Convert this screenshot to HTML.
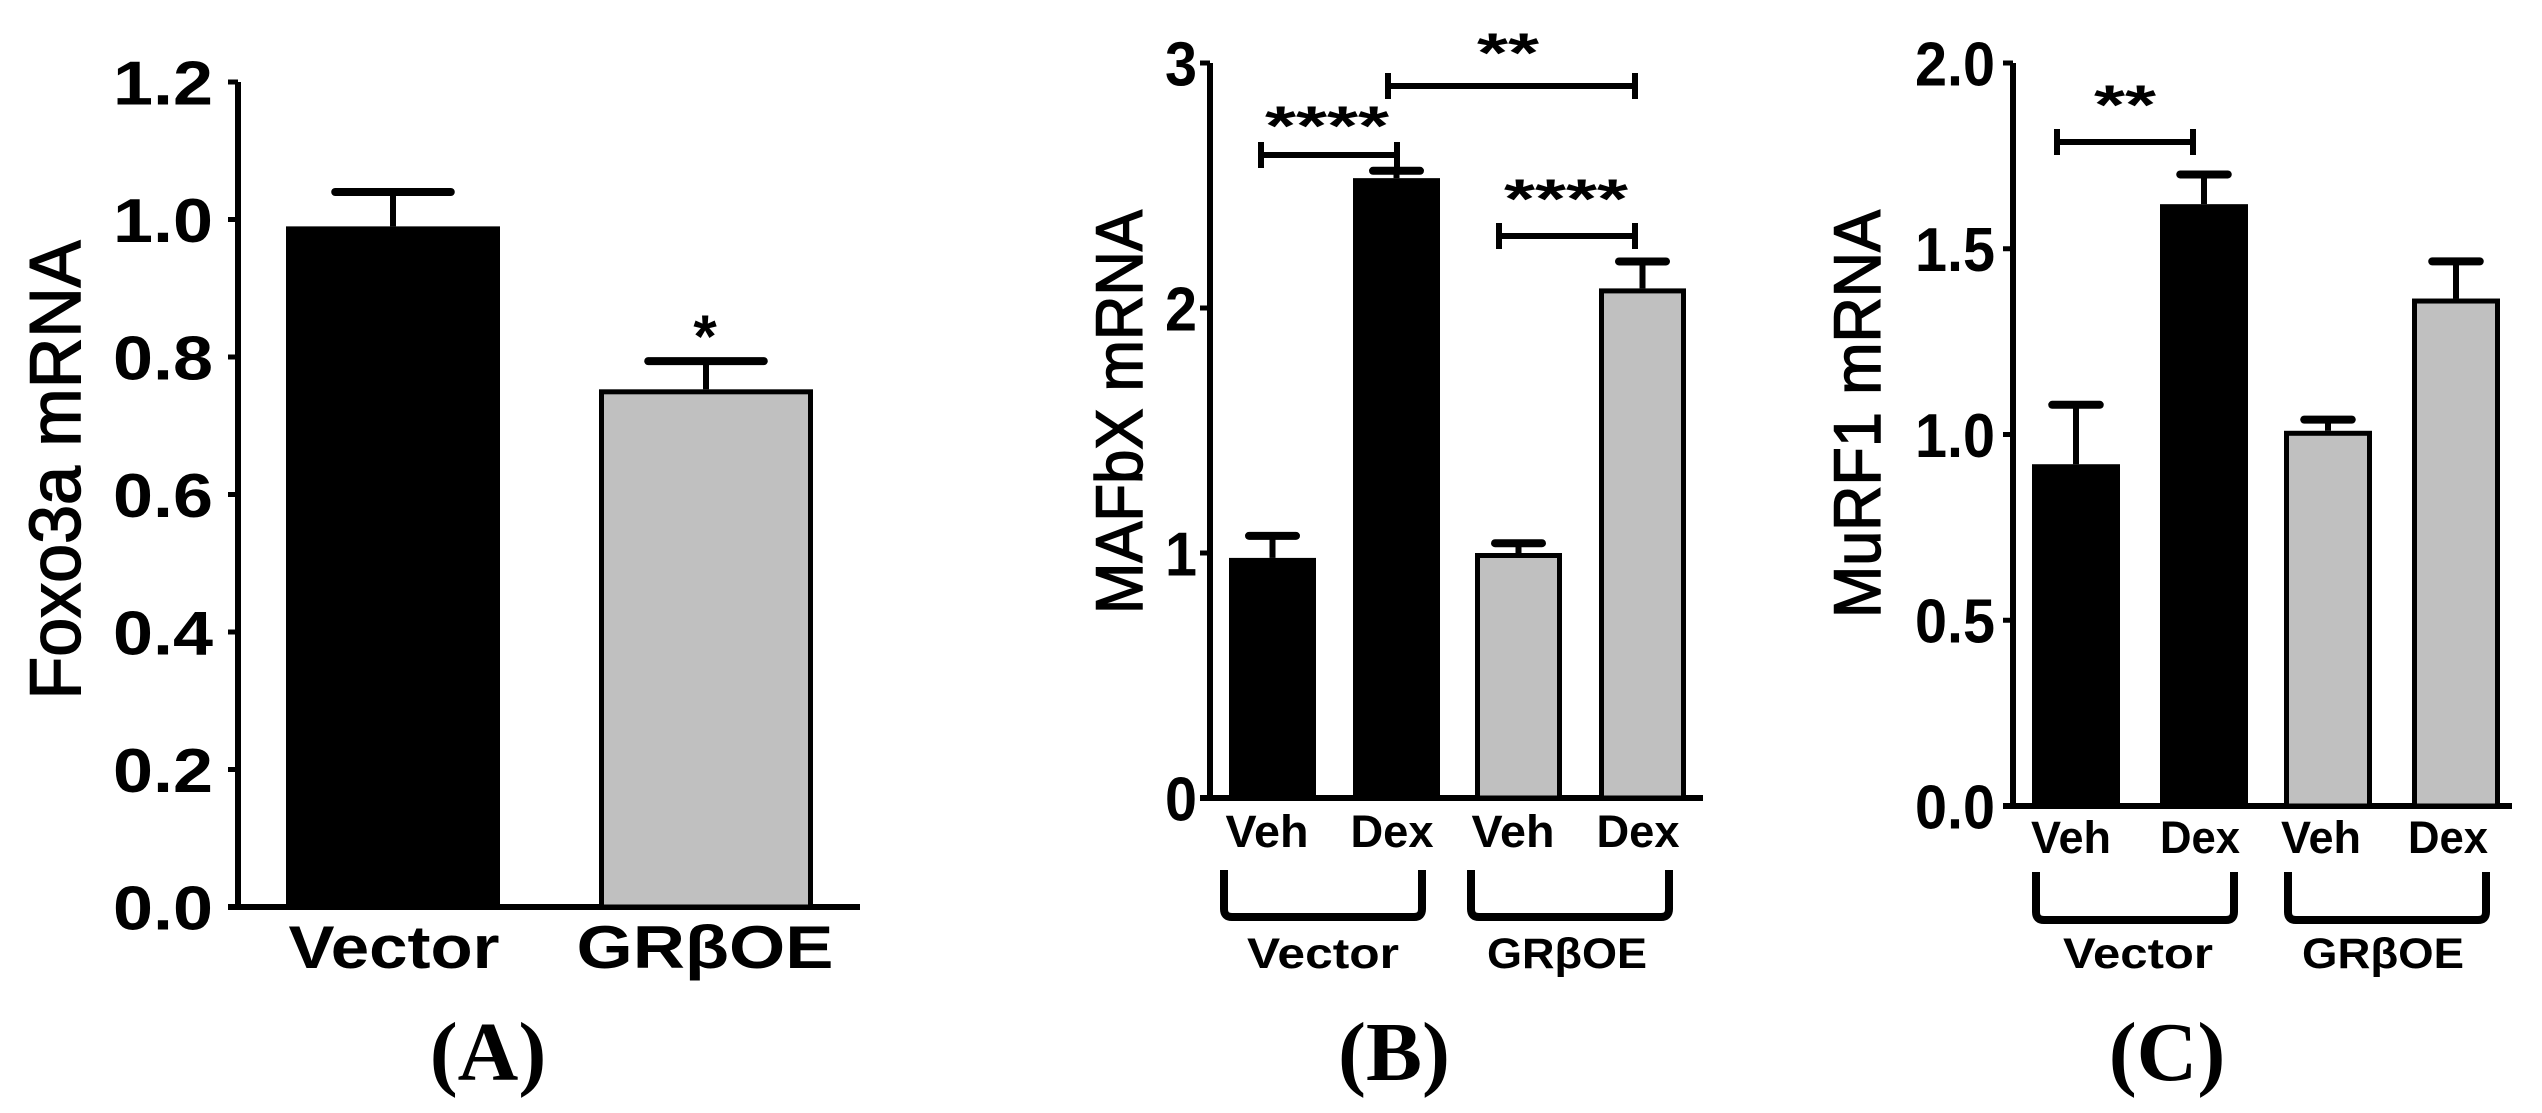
<!DOCTYPE html>
<html><head><meta charset="utf-8"><style>
html,body{margin:0;padding:0;background:#fff;}
svg{display:block;}
text{font-family:"Liberation Sans",Arial,sans-serif;}
text.serif{font-family:"Liberation Serif","Times New Roman",serif;}
</style></head><body>
<svg id="fig" width="2542" height="1113" viewBox="0 0 2542 1113" xmlns="http://www.w3.org/2000/svg"></svg>
<script>
// Panel A data
const aCategories = ["Vector", "GRβOE"];
const aMeans = [0.99, 0.753];
const aErrors = [0.05, 0.041];
const aTicks = ["0.0","0.2","0.4","0.6","0.8","1.0","1.2"];
const aTickValues = [0,0.2,0.4,0.6,0.8,1.0,1.2];
// Panel B data
const bCategories = ["Veh","Dex","Veh","Dex"];
const bMeans = [0.98, 2.53, 1.0, 2.08];
const bErrors = [0.09, 0.03, 0.04, 0.11];
const bTicks = ["0","1","2","3"];
const bTickValues = [0,1,2,3];
// Panel C data
const cCategories = ["Veh","Dex","Veh","Dex"];
const cMeans = [0.92, 1.62, 1.01, 1.366];
const cErrors = [0.16, 0.08, 0.03, 0.10];
const cTicks = ["0.0","0.5","1.0","1.5","2.0"];
const cTickValues = [0,0.5,1.0,1.5,2.0];
const groupLabels = ["Vector","GRβOE"];

const svg = document.getElementById('fig');
const NS = 'http://www.w3.org/2000/svg';
function mk(tag, attrs, parent){
  const e = document.createElementNS(NS, tag);
  for (const k in attrs) e.setAttribute(k, attrs[k]);
  (parent||svg).appendChild(e);
  return e;
}
function panel(cfg){
  const g = mk('g', {});
  
  
  const y = v => cfg.y0 - (v - cfg.vmin) / (cfg.vmax - cfg.vmin) * (cfg.y0 - cfg.y1);
  const ya = mk('line', {x1:cfg.ax, y1:y(cfg.vmax), x2:cfg.ax, y2:cfg.y0+3, stroke:'#000','stroke-width':6}, g);
  
  
  const xa = mk('line', {x1:cfg.ax-10, y1:cfg.y0, x2:cfg.axEnd, y2:cfg.y0, stroke:'#000','stroke-width':6}, g);
  
  
  cfg.tickValues.forEach((tv, i) => {
    const ty = y(tv);
    mk('line', {x1:cfg.ax-10, y1:ty, x2:cfg.ax, y2:ty, stroke:'#000','stroke-width':5}, g);
    const t = mk('text', {x:cfg.tickRight, y:ty + cfg.tickFont*0.36, 'text-anchor':'end','font-size':cfg.tickFont,'font-weight':'bold', textLength:cfg.tickLen(cfg.ticks[i]), lengthAdjust:'spacingAndGlyphs'}, g);
    t.textContent = cfg.ticks[i];
    
    
  });
  const tt = mk('text', {transform:`translate(${cfg.titleX},${cfg.titleY}) rotate(-90)`, 'text-anchor':'middle','font-size':cfg.titleFont, textLength:cfg.titleLen, lengthAdjust:'spacingAndGlyphs', stroke:'#000','stroke-width':1.5}, g);
  tt.textContent = cfg.title;
  
  
  cfg.means.forEach((m, i) => {
    const x0 = cfg.barX[i], w = cfg.barW;
    const top = y(m);
    const grey = cfg.colors[i] !== '#000';
    const r = mk('rect', {x:x0 + (grey?2.5:0), y:top + (grey?2.5:0), width:w - (grey?5:0), height:cfg.y0 - top - (grey?2.5:0), fill:cfg.colors[i], stroke:grey?'#000':'none','stroke-width':5}, g);
    
    
    const cx = x0 + w/2, ey = y(m + cfg.errors[i]);
    const el = mk('line', {x1:cx, y1:top, x2:cx, y2:ey, stroke:'#000','stroke-width':6}, g);
    
    
    const cap = mk('line', {x1:cx - w*0.27, y1:ey, x2:cx + w*0.27, y2:ey, stroke:'#000','stroke-width':8,'stroke-linecap':'round'}, g);
    
    
  });
  return {g, y};
}
function txt(g, x, yy, s, font, len, name, extra){
  const a = Object.assign({x:x, y:yy, 'text-anchor':'middle','font-size':font}, extra||{});
  if (len) { a.textLength = len; a.lengthAdjust = 'spacingAndGlyphs'; }
  const t = mk('text', a, g);
  t.textContent = s;
  
  
  return t;
}
function bracket(g, x1, x2, yy, h, name){
  const p = mk('path', {d:`M${x1},${yy-h/2}V${yy+h/2}M${x1},${yy}H${x2}M${x2},${yy-h/2}V${yy+h/2}`, stroke:'#000','stroke-width':6, fill:'none'}, g);
  
  
}
function groupBracket(g, x1, x2, yt, yb){
  const p = mk('path', {d:`M${x1},${yt}V${yb-8}Q${x1},${yb} ${x1+8},${yb}H${x2-8}Q${x2},${yb} ${x2},${yb-8}V${yt}`, stroke:'#000','stroke-width':8, fill:'none'}, g);
  
  
}

// ---- Panel A
const A = panel({name:'panel-a', ax:238, axEnd:860, y0:907, y1:82, vmin:0, vmax:1.2,
  ticks:aTicks, tickValues:aTickValues, tickRight:213, tickFont:62, tickLen:()=>100,
  title:'Foxo3a mRNA', titleX:80, titleY:470, titleFont:72, titleLen:459,
  means:aMeans, errors:aErrors, barX:[286,599], barW:214, colors:['#000','#c0c0c0']});
txt(A.g, 394, 968, aCategories[0], 60, 211, 'x-label-vector', {'font-weight':'bold'});
txt(A.g, 705, 968, aCategories[1], 60, 257, 'x-label-grboe', {'font-weight':'bold'});
txt(A.g, 705, A.y(aMeans[1]+aErrors[1]) - 4, '*', 60, null, 'significance-star', {'font-weight':'bold'});
txt(A.g, 488, 1080, '(A)', 84, null, 'panel-label-a', {'class':'serif','font-weight':'bold'});

// ---- Panel B
const B = panel({name:'panel-b', ax:1210, axEnd:1703, y0:798, y1:63, vmin:0, vmax:3,
  ticks:bTicks, tickValues:bTickValues, tickRight:1197, tickFont:62, tickLen:()=>32,
  title:'MAFbX mRNA', titleX:1142, titleY:412, titleFont:66, titleLen:404,
  means:bMeans, errors:bErrors, barX:[1229,1353,1475,1599], barW:87, colors:['#000','#000','#c0c0c0','#c0c0c0']});
const bCenters = [1267,1392,1513,1638];
bCategories.forEach((c,i)=>txt(B.g, bCenters[i], 847, c, 45, 83, 'x-label-'+c.toLowerCase(), {'font-weight':'bold'}));
groupBracket(B.g, 1224, 1422, 870, 917);
groupBracket(B.g, 1471, 1669, 870, 917);
txt(B.g, 1323, 968, groupLabels[0], 43, 152, 'group-label-vector', {'font-weight':'bold'});
txt(B.g, 1567, 968, groupLabels[1], 43, 160, 'group-label-grboe', {'font-weight':'bold'});
bracket(B.g, 1261, 1397, 155, 26, 'sig-bracket-1');
txt(B.g, 1327, 145, '****', 56, 124, 'sig-stars-1', {'font-weight':'bold'});
bracket(B.g, 1388, 1635, 86, 26, 'sig-bracket-2');
txt(B.g, 1508, 72, '**', 56, 62, 'sig-stars-2', {'font-weight':'bold'});
bracket(B.g, 1499, 1635, 236, 26, 'sig-bracket-3');
txt(B.g, 1566, 218, '****', 56, 124, 'sig-stars-3', {'font-weight':'bold'});
txt(B.g, 1394, 1080, '(B)', 84, null, 'panel-label-b', {'class':'serif','font-weight':'bold'});

// ---- Panel C
const C = panel({name:'panel-c', ax:2013, axEnd:2512, y0:806, y1:63, vmin:0, vmax:2,
  ticks:cTicks, tickValues:cTickValues, tickRight:1995, tickFont:62, tickLen:()=>80,
  title:'MuRF1 mRNA', titleX:1880, titleY:414, titleFont:66, titleLen:408,
  means:cMeans, errors:cErrors, barX:[2032,2160,2284,2412], barW:88, colors:['#000','#000','#c0c0c0','#c0c0c0']});
const cCenters = [2071,2200,2321,2448];
cCategories.forEach((c,i)=>txt(C.g, cCenters[i], 853, c, 45, 80, 'x-label-'+c.toLowerCase(), {'font-weight':'bold'}));
groupBracket(C.g, 2036, 2234, 872, 920);
groupBracket(C.g, 2288, 2486, 872, 920);
txt(C.g, 2138, 968, groupLabels[0], 43, 150, 'group-label-vector', {'font-weight':'bold'});
txt(C.g, 2383, 968, groupLabels[1], 43, 162, 'group-label-grboe', {'font-weight':'bold'});
bracket(C.g, 2057, 2193, 142, 26, 'sig-bracket');
txt(C.g, 2125, 124, '**', 56, 62, 'sig-stars', {'font-weight':'bold'});
txt(C.g, 2167, 1080, '(C)', 84, null, 'panel-label-c', {'class':'serif','font-weight':'bold'});
</script>
</body></html>
